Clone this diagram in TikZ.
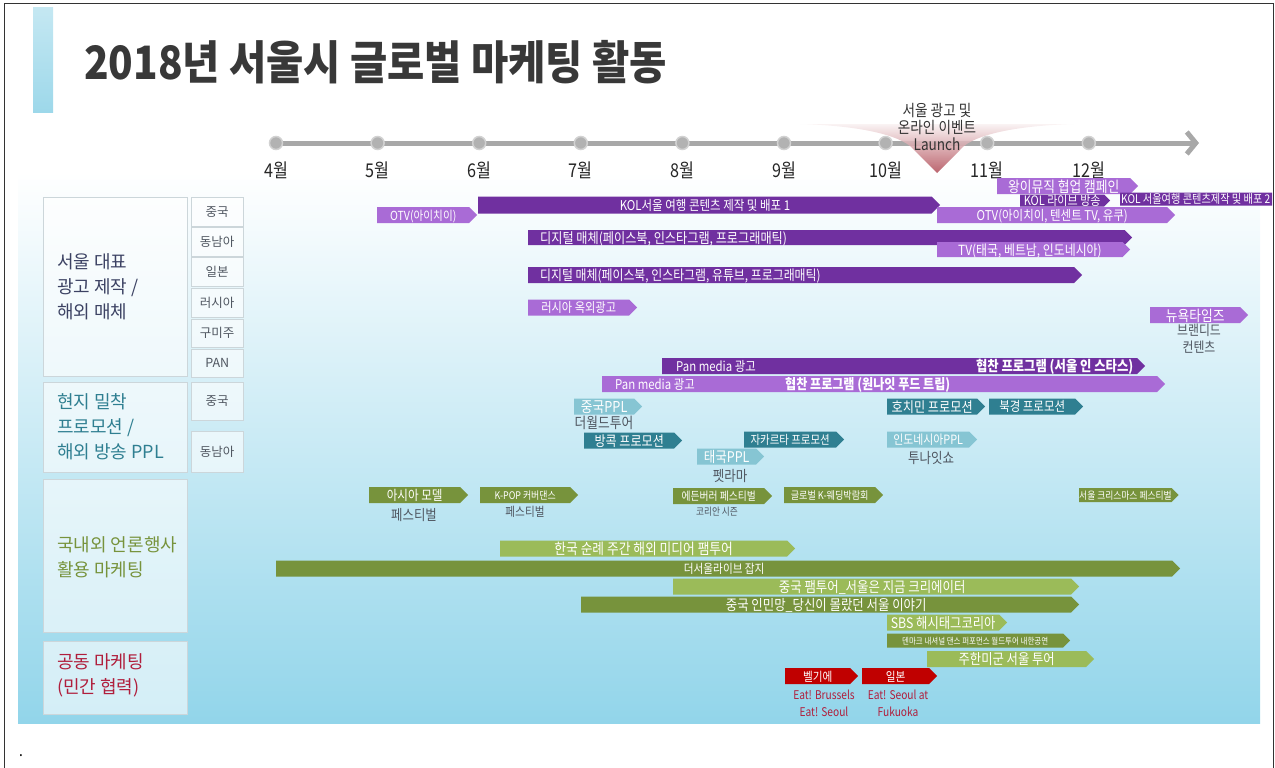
\documentclass[tikz,border=0pt]{standalone}
\usepackage{fontspec}
\setmainfont{Noto Sans CJK KR}[FakeStretch=0.85]
\newfontfamily\titlefont{Noto Sans CJK KR}[FakeStretch=0.88]
\newfontfamily\catfont{Noto Sans CJK KR}
\usetikzlibrary{shapes.symbols,arrows.meta}

\definecolor{dpurple}{HTML}{7030A0}
\definecolor{lpurple}{HTML}{A96BD6}
\definecolor{dteal}{HTML}{2F7F91}
\definecolor{lteal}{HTML}{86C5D3}
\definecolor{dgreen}{HTML}{77933C}
\definecolor{lgreen}{HTML}{9BBB59}
\definecolor{dred}{HTML}{C00000}
\definecolor{bgblue}{HTML}{92D5EA}
\definecolor{accent}{HTML}{9DD8EA}
\definecolor{tline}{HTML}{A8A8A8}
\definecolor{launch}{HTML}{B04A55}
\definecolor{navytext}{HTML}{3C4263}
\definecolor{greytext}{HTML}{4F5660}
\definecolor{redtext}{HTML}{B01E3C}
\definecolor{boxline}{HTML}{CCD6DA}

\tikzset{
  fs/.style={font=\fontsize{#1}{#1}\selectfont},
  th/.style={text height=#1pt, text depth=0pt},
  bar/.style={shape=signal, signal to=east, minimum height=16pt, inner sep=0pt,
    th=11.3, anchor=west, text=white, fs=14},
  pbar/.style={bar, fill=dpurple},
  lpbar/.style={bar, fill=lpurple},
  tbar/.style={bar, fill=dteal},
  ltbar/.style={bar, fill=lteal},
  gbar/.style={bar, fill=dgreen},
  lgbar/.style={bar, fill=lgreen},
  rbar/.style={bar, fill=dred},
  bartext/.style={text=white, inner sep=0pt, th=11.3, fs=14},
  note/.style={text=greytext, inner sep=0pt, align=center, fs=14},
  catbox/.style={draw=boxline, fill=white, fill opacity=0.6, anchor=north west,
    minimum width=144pt, inner sep=0pt},
  cattext/.style={anchor=west, align=left, inner sep=0pt, font=\catfont\fontsize{18}{25}\selectfont},
  subbox/.style={draw=boxline, fill=white, fill opacity=0.6, text opacity=1, anchor=north west,
    minimum width=52pt, inner sep=0pt, text=greytext, font=\catfont\fontsize{12.5}{14}\selectfont},
  tdot/.style={circle, fill=gray!60, draw=gray!35, line width=1.5pt, minimum size=13pt, inner sep=0pt},
  month/.style={text=black!85, inner sep=0pt, fs=19},
}

\begin{document}
\begin{tikzpicture}[x=1pt, y=-1pt]
\useasboundingbox (0,0) rectangle (1275,768);

% frame and background
\shade[top color=white, bottom color=bgblue] (18,172) rectangle (1260,723);
\shade[top color=accent!60, bottom color=accent] (33,8) rectangle (53,112);
\draw[line width=1pt, black!80] (4,768) -- (4,4) -- (1273,4) -- (1273,768);
\node[anchor=west, text=black!78, inner sep=0pt, font=\titlefont\bfseries\fontsize{46}{48}\selectfont] at (84,62) (title) {2018년 서울시 글로벌 마케팅 활동};
\node[inner sep=0pt, fs=16] at (21,756) (dot) {.};

% timeline
\coordinate (tstart) at (276,143);
\coordinate (tend) at (1199,143);
\draw[line width=5pt, tline, -{Straight Barb[length=9pt, width=22pt]}] (tstart) -- (tend);
\shade[top color=launch!8, bottom color=launch, opacity=0.85] (800,124) .. controls (870,126) and (905,138) .. (914,150) -- (937,173) -- (960,150) .. controls (969,138) and (1004,126) .. (1074,124) -- cycle;
\foreach \m [count=\i from 0] in {4,...,12} {
  \node[tdot] at (276+\i*101.6,143) (m\m) {};
  \node[month] at (276+\i*101.6,170) (l\m) {{\m}월};
}
\node[align=center, text=black!80, font=\fontsize{16}{17}\selectfont] at (937,127) (launchtext) {서울 광고 및\\온라인 이벤트\\Launch};

% categories
\node[catbox, minimum height=179pt] at (43,197) (cat1) {};
\node[cattext, text=navytext] at ([xshift=14pt]cat1.west) (cat1-t) {서울 대표\\광고 제작 /\\해외 매체};
\node[catbox, minimum height=90pt] at (43,382) (cat2) {};
\node[cattext, text=dteal] at ([xshift=14pt]cat2.west) (cat2-t) {현지 밀착\\프로모션 /\\해외 방송 PPL};
\node[catbox, minimum height=153pt] at (43,479) (cat3) {};
\node[cattext, text=dgreen] at ([xshift=14pt, yshift=-2pt]cat3.west) (cat3-t) {국내외 언론행사\\활용 마케팅};
\node[catbox, minimum height=73pt] at (43,641) (cat4) {};
\node[cattext, text=redtext] at ([xshift=14pt, yshift=2pt]cat4.west) (cat4-t) {공동 마케팅\\(민간 협력)};

\node[subbox, minimum height=29pt] at (191,197) (s-cn) {중국};
\node[subbox, minimum height=29pt] at (191,227) (s-sea) {동남아};
\node[subbox, minimum height=29pt] at (191,257) (s-jp) {일본};
\node[subbox, minimum height=29pt] at (191,288) (s-ru) {러시아};
\node[subbox, minimum height=28pt] at (191,319) (s-am) {구미주};
\node[subbox, minimum height=28pt] at (191,349) (s-pan) {PAN};
\node[subbox, minimum height=38pt] at (191,382) (s-cn2) {중국};
\node[subbox, minimum height=41pt] at (191,431) (s-sea2) {동남아};

% seoul ads / overseas media
\node[lpbar, minimum width=141pt, fs=15, th=12] at (997,186) (wang) {왕이뮤직 협업 캠페인};
\node[pbar, minimum width=462pt, minimum height=17pt, fs=13.5, th=10.8] at (478,205) (kol1) {KOL서울 여행 콘텐츠 제작 및 배포 1};
\node[lpbar, minimum width=100pt, fs=12.5, th=10] at (377,215) (otv1) {OTV(아이치이)};
\node[lpbar, minimum width=238pt, fs=13.5, th=10.8] at (937,215) (otv2) {OTV(아이치이, 텐센트 TV, 유쿠)};
\node[pbar, minimum width=90pt, minimum height=12pt, fs=13, th=10.4] at (1020,200.5) (live) {KOL 라이브 방송};
\begin{scope}
  \clip (0,0) rectangle (1272,768);
  \node[pbar, minimum width=180pt, minimum height=13pt] at (1120,199) (kol2) {};
  \node[bartext, fs=12, th=9.6, anchor=west] at ([xshift=1pt]kol2.west) (kol2-t) {KOL 서울여행 콘텐츠제작 및 배포 2};
\end{scope}
\node[pbar, minimum width=604pt, minimum height=15pt] at (528,237.5) (dig1) {};
\node[bartext, anchor=west, fs=14.3] at ([xshift=12pt]dig1.west) (dig1-t) {디지털 매체(페이스북, 인스타그램, 프로그래매틱)};
\node[lpbar, minimum width=193pt, minimum height=15pt] at (937,249.5) (tv) {TV(태국, 베트남, 인도네시아)};
\node[pbar, minimum width=554pt] at (528,275) (dig2) {};
\node[bartext, anchor=west] at ([xshift=12pt]dig2.west) (dig2-t) {디지털 매체(페이스북, 인스타그램, 유튜브, 프로그래매틱)};
\node[lpbar, minimum width=109pt, fs=13.2, th=10.6] at (528,307.5) (rus) {러시아 옥외광고};
\node[lpbar, minimum width=98pt, fs=15, th=12] at (1150,315) (nyt) {뉴욕타임즈};
\node[note, font=\fontsize{14}{17}\selectfont] at (1199,339) (nyt-n) {브랜디드\\컨텐츠};
\node[pbar, minimum width=483pt] at (662,366) (pan1) {};
\node[bartext, anchor=west, fs=13.4, th=10.7] at ([xshift=14pt]pan1.west) (pan1-a) {Pan media 광고};
\node[bartext, anchor=east, th=11.6, font=\fontsize{14.5}{15}\selectfont\bfseries] at ([xshift=-12pt]pan1.east) (pan1-b) {협찬 프로그램 (서울 인 스타스)};
\node[lpbar, minimum width=563pt] at (602,384) (pan2) {};
\node[bartext, anchor=west, fs=13.4, th=10.7] at ([xshift=13pt]pan2.west) (pan2-a) {Pan media 광고};
\node[bartext, anchor=west, th=11.4, font=\fontsize{14.2}{15}\selectfont\bfseries] at (785,384) (pan2-b) {협찬 프로그램 (원나잇 푸드 트립)};

% local promotion / PPL
\node[ltbar, minimum width=68pt, fs=15, th=12] at (574,406.5) (cnppl) {중국PPL};
\node[note, fs=15] at (604,423) (cnppl-n) {더월드투어};
\node[tbar, minimum width=98pt, fs=14.3] at (887,406.5) (hcm) {호치민 프로모션};
\node[tbar, minimum width=94pt, fs=13.5, th=10.8] at (989,406.5) (bj) {북경 프로모션};
\node[tbar, minimum width=98pt, fs=14.2] at (584,440.5) (bkk) {방콕 프로모션};
\node[tbar, minimum width=100pt, fs=12.3, th=9.8] at (744,439.5) (jkt) {자카르타 프로모션};
\node[ltbar, minimum width=90pt, fs=12.8, th=10.2] at (887,439.5) (idppl) {인도네시아PPL};
\node[note, fs=14.7] at (931,458) (idppl-n) {투나잇쇼};
\node[ltbar, minimum width=67pt, fs=14.7, th=11.8] at (697,456.5) (thppl) {태국PPL};
\node[note, fs=14.7] at (730,476) (thppl-n) {펫라마};

% media events
\node[gbar, minimum width=99pt, fs=13.6, th=10.9] at (369,495) (asia) {아시아 모델};
\node[note, fs=14.6] at (414,515) (asia-n) {페스티벌};
\node[gbar, minimum width=98pt, fs=10.5, th=8.4] at (480,495) (kpop) {K-POP 커버댄스};
\node[note, fs=12.5] at (525,512) (kpop-n) {페스티벌};
\node[gbar, minimum width=99pt, fs=11.5, th=9.2] at (673,496) (edin) {에든버러 페스티벌};
\node[note, fs=10.2] at (717,512) (edin-n) {코리안 시즌};
\node[gbar, minimum width=99pt, fs=10.7, th=8.6] at (784,495) (wed) {글로벌 K-웨딩박람회};
\node[gbar, minimum width=99pt, minimum height=14pt, fs=10.3, th=8.2] at (1079,495) (xmas) {서울 크리스마스 페스티벌};
\node[lgbar, minimum width=295pt, fs=15, th=12] at (500,548.5) (pilg) {한국 순례 주간 해외 미디어 팸투어};
\node[gbar, minimum width=904pt, fs=12.5, th=10] at (276,568.5) (mag) {더서울라이브 잡지};
\node[lgbar, minimum width=406pt, fs=14.6, th=11.7] at (673,586.5) (cnfam) {중국 팸투어\_서울은 지금 크리에이터};
\node[gbar, minimum width=498pt, fs=14.6, th=11.7] at (581,604.5) (people) {중국 인민망\_당신이 몰랐던 서울 이야기};
\node[lgbar, minimum width=120pt, fs=14.5, th=11.6] at (887,622.5) (sbs) {SBS 해시태그코리아};
\node[gbar, minimum width=183pt, minimum height=14pt, fs=8.8, th=7] at (887,640.5) (den) {덴마크 내셔널 댄스 퍼포먼스 월드투어 내한공연};
\node[lgbar, minimum width=167pt, fs=14.5, th=11.6] at (927,659) (usfk) {주한미군 서울 투어};

% joint marketing
\node[rbar, minimum width=73pt, fs=12.5, th=10] at (785,676) (bel) {벨기에};
\node[note, text=redtext, font=\fontsize{12}{17}\selectfont] at (824,703) (bel-n) {Eat! Brussels\\Eat! Seoul};
\node[rbar, minimum width=75pt, fs=12.5, th=10] at (862,676) (jpn) {일본};
\node[note, text=redtext, font=\fontsize{12}{17}\selectfont] at (898,703) (jpn-n) {Eat! Seoul at\\Fukuoka};
\end{tikzpicture}
\end{document}
